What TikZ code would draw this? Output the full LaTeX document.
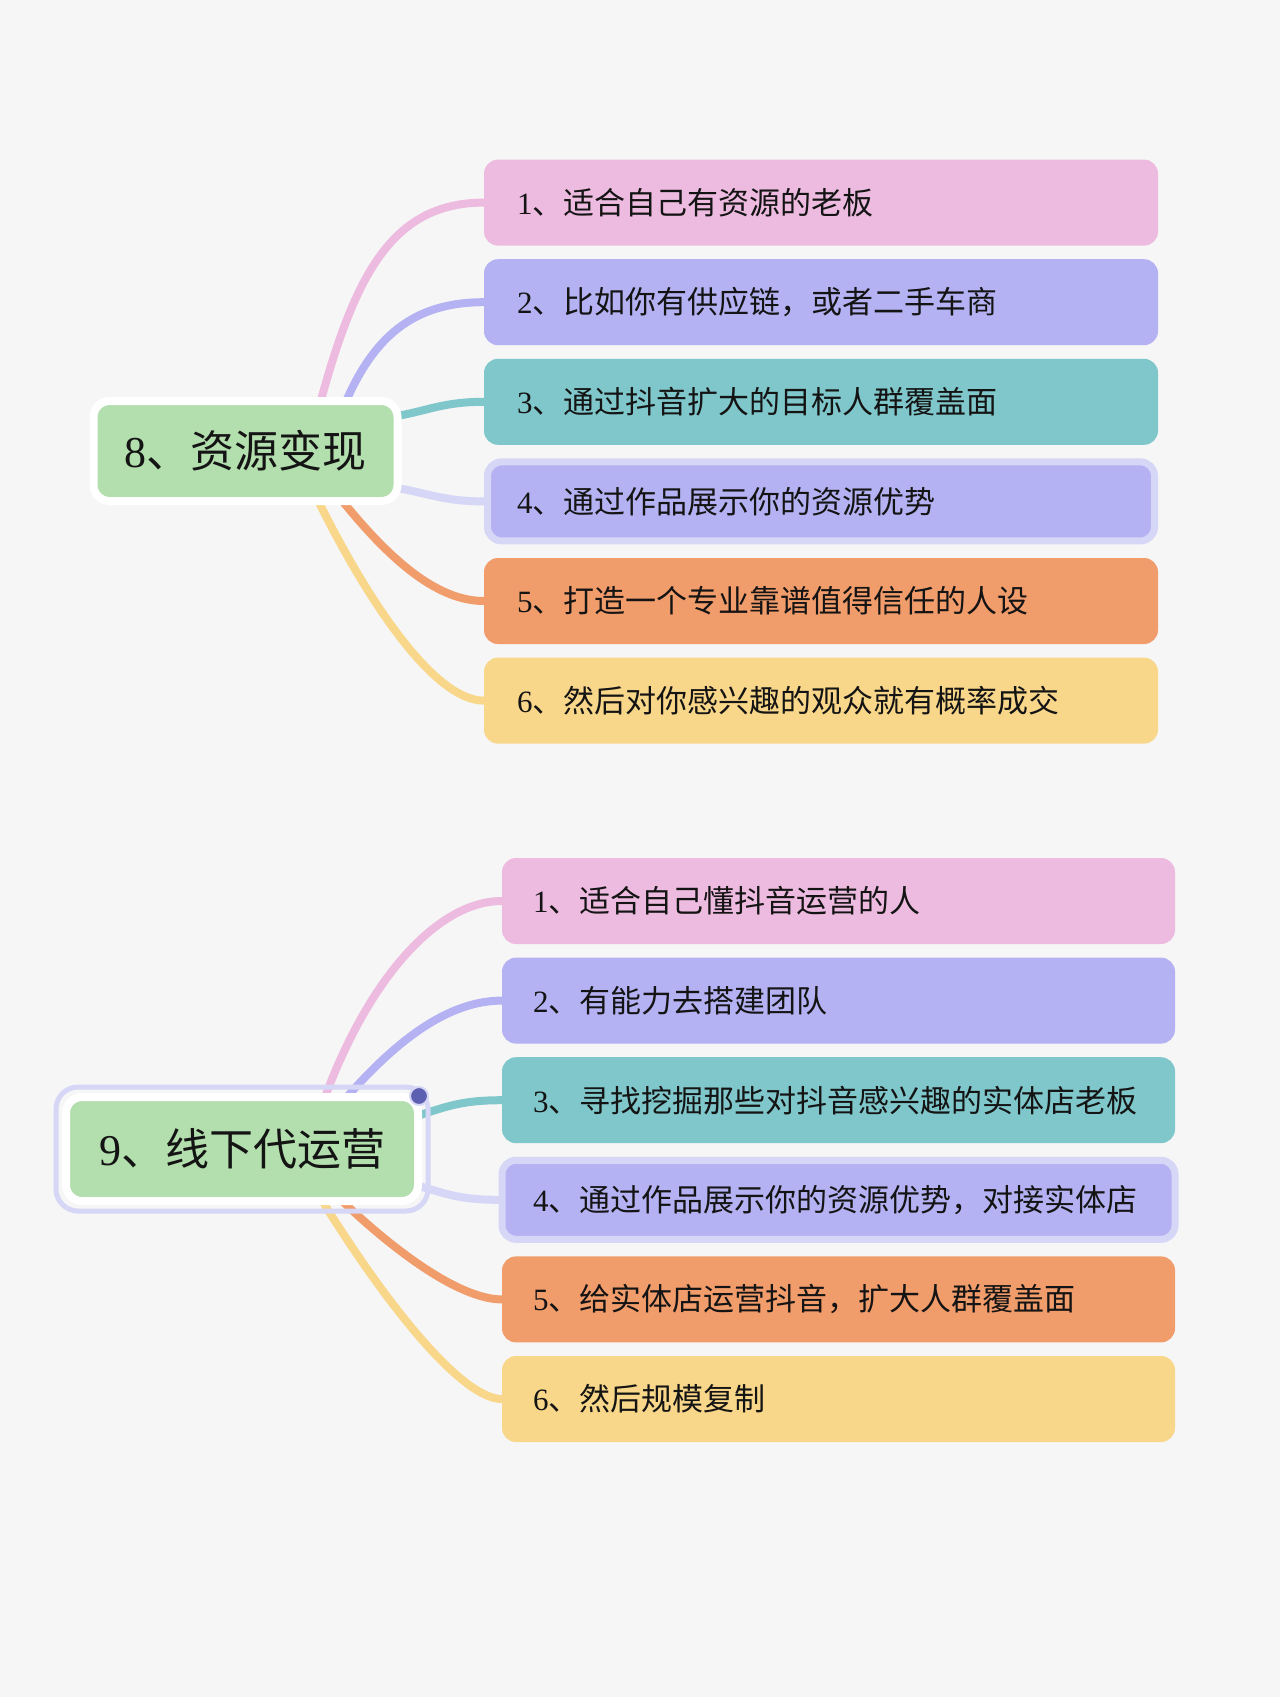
\documentclass[tikz,border=0pt]{standalone}
\usepackage{fontspec}
\setmainfont{Liberation Serif}
\newfontfamily\cjk{Noto Sans CJK SC}
\usetikzlibrary{backgrounds}
\definecolor{ink}{HTML}{141414}
\definecolor{bg}{HTML}{F6F6F6}
\definecolor{pk}{HTML}{EDBBDF}
\definecolor{lv}{HTML}{B4B2F2}
\definecolor{tl}{HTML}{80C7CB}
\definecolor{lvl}{HTML}{D6D6F6}
\definecolor{og}{HTML}{F19C6B}
\definecolor{yw}{HTML}{F9D78A}
\definecolor{gn}{HTML}{B3DEAD}
\definecolor{dot}{HTML}{5D60B0}
\newcommand\lbl[2]{#1{\cjk 、#2}}
\tikzset{
 item/.style={rounded corners=14pt,minimum height=86pt,text width=608pt,inner xsep=33pt,align=left,text=ink,font=\fontsize{31}{37}\selectfont},
 nosel/.style={},
 sel/.style={draw=lvl,line width=7pt,minimum height=79pt,inner xsep=29.5pt},
 root/.style={fill=gn,draw=white,line width=8pt,rounded corners=16pt,text=ink,font=\fontsize{44}{52}\selectfont},
 lnk/.style={line width=8pt,line cap=round}
}
\begin{document}
\begin{tikzpicture}[x=1pt,y=-1pt]
\useasboundingbox (0,0) rectangle (1280,1697);
% resources
\node[root,minimum width=304pt,minimum height=100pt] (r8) at (245.5,451) {\lbl{8}{资源变现}};
\foreach \i/\c/\s/\t in {1/pk/nosel/适合自己有资源的老板,2/lv/nosel/比如你有供应链，或者二手车商,3/tl/nosel/通过抖音扩大的目标人群覆盖面,4/lv/sel/通过作品展示你的资源优势,5/og/nosel/打造一个专业靠谱值得信任的人设,6/yw/nosel/然后对你感兴趣的观众就有概率成交}
 \node[item,fill=\c,\s] (a\i) at (821,{103+99.6*\i}) {\lbl{\i}{\t}};
% offline
\node[root,minimum width=352pt,minimum height=104pt] (r9) at (242,1149) {\lbl{9}{线下代运营}};
\draw[lvl,line width=5pt,rounded corners=22pt] ([shift={(-6,-6)}]r9.north west) rectangle ([shift={(6,6)}]r9.south east);
\fill[dot,draw=lvl,line width=2pt] (419,1096) circle (9);
\foreach \i/\c/\s/\t in {1/pk/nosel/适合自己懂抖音运营的人,2/lv/nosel/有能力去搭建团队,3/tl/nosel/寻找挖掘那些对抖音感兴趣的实体店老板,4/lv/sel/通过作品展示你的资源优势，对接实体店,5/og/nosel/给实体店运营抖音，扩大人群覆盖面,6/yw/nosel/然后规模复制}
 \node[item,fill=\c,\s,text width=611pt,inner xsep=31pt] (b\i) at (838.5,{801.4+99.6*\i}) {\lbl{\i}{\t}};
\begin{pgfonlayer}{background}
\fill[bg] (0,0) rectangle (1280,1697);
\draw[lnk,pk] ([shift={(72.5,14)}]r8.north) .. controls +(35,-130) and +(-95,0) .. (a1.west);
\draw[lnk,lv] ([shift={(96.5,14)}]r8.north) .. controls +(30,-75) and +(-70,0) .. (a2.west);
\draw[lnk,tl] ([shift={(-17.5,-33)}]r8.east) .. controls +(40,-5) and +(-45,0) .. (a3.west);
\draw[lnk,lvl] ([shift={(-17.5,35)}]r8.east) .. controls +(40,5) and +(-45,0) .. (a4.west);
\draw[lnk,og] ([shift={(79.5,-26)}]r8.south) .. controls +(50,65) and +(-55,0) .. (a5.west);
\draw[lnk,yw] ([shift={(64.5,-21)}]r8.south) .. controls +(55,115) and +(-50,0) .. (a6.west);
\draw[lnk,pk] ([shift={(78,18)}]r9.north) .. controls +(45,-130) and +(-65,0) .. (b1.west);
\draw[lnk,lv] ([shift={(93,18)}]r9.north) .. controls +(50,-60) and +(-60,0) .. (b2.west);
\draw[lnk,tl] ([shift={(-18,-29)}]r9.east) .. controls +(40,-12) and +(-45,0) .. (b3.west);
\draw[lnk,lvl] ([shift={(-18,33)}]r9.east) .. controls +(40,10) and +(-45,0) .. (b4.west);
\draw[lnk,og] ([shift={(88,-16)}]r9.south) .. controls +(55,55) and +(-45,0) .. (b5.west);
\draw[lnk,yw] ([shift={(73,-16)}]r9.south) .. controls +(70,115) and +(-40,0) .. (b6.west);
\end{pgfonlayer}
\end{tikzpicture}
\end{document}
